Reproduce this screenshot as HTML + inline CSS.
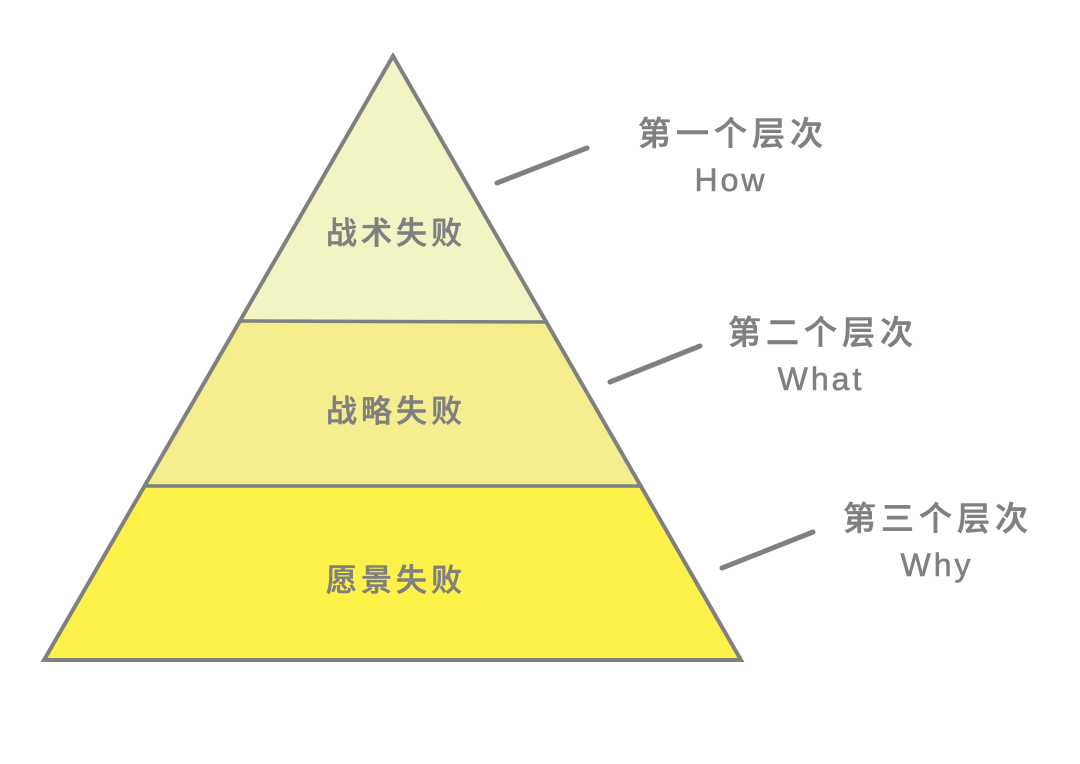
<!DOCTYPE html>
<html><head><meta charset="utf-8"><style>
html,body{margin:0;padding:0;background:#fff;width:1080px;height:764px;overflow:hidden}
text{font-family:"Liberation Sans","Noto Sans CJK SC",sans-serif;fill:#808080;font-weight:500;stroke:#808080;stroke-width:0.6}
</style></head><body>
<svg width="1080" height="764" viewBox="0 0 1080 764" xmlns="http://www.w3.org/2000/svg">
<polygon points="393,56 546,321 240,321" fill="#f2f5c3"/>
<polygon points="240,321 546,321 641,486 145,486" fill="#f4ee8e"/>
<polygon points="145,486 641,486 741,660 44,660" fill="#fef24a"/>
<polygon points="393,56 741,660 44,660" fill="none" stroke="#808080" stroke-width="4" stroke-linejoin="miter"/>
<line x1="240" y1="321" x2="546" y2="322" stroke="#808080" stroke-width="3.5"/>
<line x1="145" y1="486" x2="641" y2="486" stroke="#808080" stroke-width="3.5"/>
<g stroke="#808080" stroke-width="5" stroke-linecap="round" fill="none">
<path d="M497,183 L587,148"/>
<path d="M610,382 L700,346"/>
<path d="M722,568 L813,532"/>
</g>
<g text-anchor="middle">
<g font-size="31" letter-spacing="4">
<text x="396" y="244">战术失败</text>
<text x="396" y="422">战略失败</text>
<text x="396" y="591">愿景失败</text>
</g>
<g font-size="33" letter-spacing="5">
<text x="733" y="145">第一个层次</text>
<text x="823" y="344">第二个层次</text>
<text x="938" y="530">第三个层次</text>
</g>
<g font-size="32" letter-spacing="3">
<text x="731" y="191">How</text>
<text x="821" y="390">What</text>
<text x="937" y="576">Why</text>
</g>
</g>
</svg>
</body></html>
